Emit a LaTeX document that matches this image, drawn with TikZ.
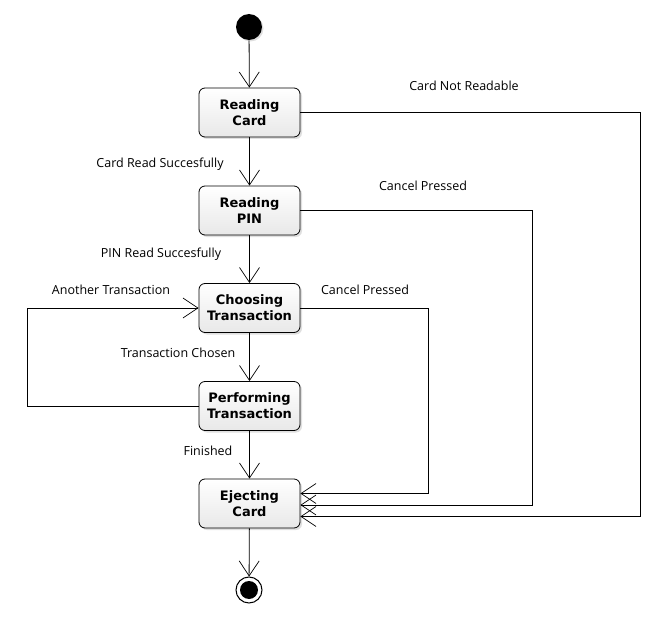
\documentclass[tikz,border=0pt]{standalone}
\usepackage{fontspec}
\setmainfont{DejaVu Sans}
\newfontfamily\labelfont{Open Sans}
\usetikzlibrary{arrows.meta,shadows}
\begin{document}
\begin{tikzpicture}[x=1pt,y=-1pt,line width=0.8pt,
  state/.style={draw, rounded corners=6pt, minimum width=101pt, minimum height=49pt,
    inner sep=2pt, align=center, font=\bfseries\fontsize{13}{16}\selectfont,
    top color=white, bottom color=gray!18,
    drop shadow={opacity=0.25, shadow xshift=2pt, shadow yshift=-2pt}},
  trans/.style={-{Straight Barb[length=15pt,width=20pt,line width=0.7pt]}},
  lbl/.style={font=\labelfont\fontsize{12.5}{15}\selectfont}]
\useasboundingbox (0,0) rectangle (657,642);
% states
\node[circle, fill=black, minimum size=26pt, inner sep=0pt,
  drop shadow={opacity=0.25, shadow xshift=1.5pt, shadow yshift=-1.5pt}] (start) at (249,27) {};
\node[state] (card) at (249.5,112.5) {Reading\\Card};
\node[state] (pin) at (249.5,210.5) {Reading\\PIN};
\node[state] (choose) at (249.5,308) {Choosing\\Transaction};
\node[state] (perf) at (249.5,406) {Performing\\Transaction};
\node[state] (eject) at (249.5,503.5) {Ejecting\\Card};
\node[circle, draw, line width=1pt, fill=white, minimum size=26pt, inner sep=0pt] (stop) at (249,590) {};
\fill (stop) circle (9pt);
% corners of the outer paths
\coordinate (c1) at (640,112.5);
\coordinate (c2) at (532,210.5);
\coordinate (c3) at (428,308);
\coordinate (c4) at (27,406);
% transitions
\draw[trans] (start) -- (card);
\draw[trans] (card) -- (pin);
\draw[trans] (pin) -- (choose);
\draw[trans] (choose) -- (perf);
\draw[trans] (perf) -- (eject);
\draw[trans] (eject) -- (stop);
\draw[trans] (card.east) -- (c1) |- ([yshift=-13pt]eject.east);
\draw[trans] (pin.east) -- (c2) |- ([yshift=-1.5pt]eject.east);
\draw[trans] (choose.east) -- (c3) |- ([yshift=10pt]eject.east);
\draw[trans] (perf.west) -- (c4) |- (choose.west);
% labels
\node[lbl] (l1) at (464,86) {Card Not Readable};
\node[lbl] (l2) at (160,164) {Card Read Succesfully};
\node[lbl] (l3) at (423,186) {Cancel Pressed};
\node[lbl] (l4) at (161,254) {PIN Read Succesfully};
\node[lbl] (l5) at (111,290) {Another Transaction};
\node[lbl] (l6) at (365,290) {Cancel Pressed};
\node[lbl] (l7) at (178,353) {Transaction Chosen};
\node[lbl] (l8) at (208,451) {Finished};
\end{tikzpicture}
\end{document}
